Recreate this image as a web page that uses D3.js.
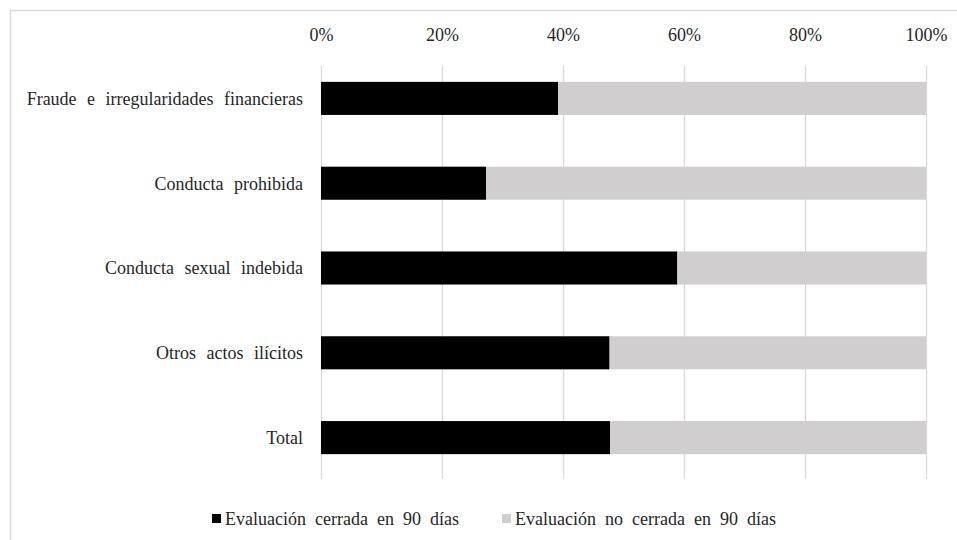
<!DOCTYPE html>
<html><head><meta charset="utf-8">
<script src="https://cdn.jsdelivr.net/npm/d3@7"></script>
<style>body{margin:0;background:#fff}svg{display:block}
svg text{font-family:"Liberation Serif","Times New Roman","DejaVu Serif",serif !important;}</style>
</head><body>
<svg id="c" width="957" height="540"></svg>
<script>
const categories = ["Fraude e irregularidades financieras","Conducta prohibida","Conducta sexual indebida","Otros actos ilícitos","Total"];
const closed = [0.392, 0.273, 0.589, 0.477, 0.478];
const notClosed = closed.map(v => 1 - v);
const seriesNames = ["Evaluación cerrada en 90 días","Evaluación no cerrada en 90 días"];
const tickValues = [0,0.2,0.4,0.6,0.8,1.0];
const colors = ["#000000","#d0cece"];

const svg = d3.select("#c");
const txt = "#262626";

svg.append("rect").attr("x",10.5).attr("y",10.5).attr("width",960).attr("height",560)
  .attr("fill","none").attr("stroke","#d9d9d9").attr("stroke-width",1.5);

const x = d3.scaleLinear().domain([0,1]).range([321,926]);
const y = d3.scaleBand().domain(categories).range([56,480]).paddingInner(0.61).paddingOuter(0.305);

// gridlines
svg.append("g").selectAll("line").data(tickValues).join("line")
  .attr("x1",d=>Math.round(x(d))+0.5).attr("x2",d=>Math.round(x(d))+0.5)
  .attr("y1",66).attr("y2",479).attr("stroke","#d9d9d9").attr("stroke-width",1.3);

// axis labels (top)
const ax = d3.axisTop(x).tickValues(tickValues).tickFormat(d3.format(".0%")).tickSize(0).tickPadding(0);
const g = svg.append("g").attr("transform","translate(0,41)").call(ax);
g.select(".domain").remove();
g.attr("font-size",null).attr("font-family",null);
g.selectAll("text").attr("font-size",18).attr("fill",txt).attr("dy",0);

// stacks
const rows = categories.map((c,i)=>({cat:c, a:closed[i], b:notClosed[i]}));
const stack = d3.stack().keys(["a","b"])(rows);
svg.append("g").selectAll("g").data(stack).join("g").attr("fill",(d,i)=>colors[i])
  .selectAll("rect").data(d=>d).join("rect")
  .attr("x",d=>x(d[0])).attr("width",d=>x(d[1])-x(d[0]))
  .attr("y",d=>y(d.data.cat)).attr("height",y.bandwidth());

// category labels
const ay = d3.axisLeft(y).tickSize(0).tickPadding(18);
const gy = svg.append("g").attr("transform","translate(321,0)").call(ay);
gy.select(".domain").remove();
gy.attr("font-size",null).attr("font-family",null);
gy.selectAll("text").attr("font-size",18).attr("fill",txt).attr("word-spacing","6px").attr("dy","0.35em");

// legend
const leg = [{x:212, tx:225},{x:502, tx:515}];
const lg = svg.append("g");
seriesNames.forEach((n,i)=>{
  lg.append("rect").attr("x",leg[i].x).attr("y",514).attr("width",9).attr("height",9).attr("fill",colors[i]);
  lg.append("text").attr("x",leg[i].tx).attr("y",525).attr("font-size",18)
    .attr("fill",txt).attr("word-spacing","4.5px").text(n);
});
</script>
</body></html>
